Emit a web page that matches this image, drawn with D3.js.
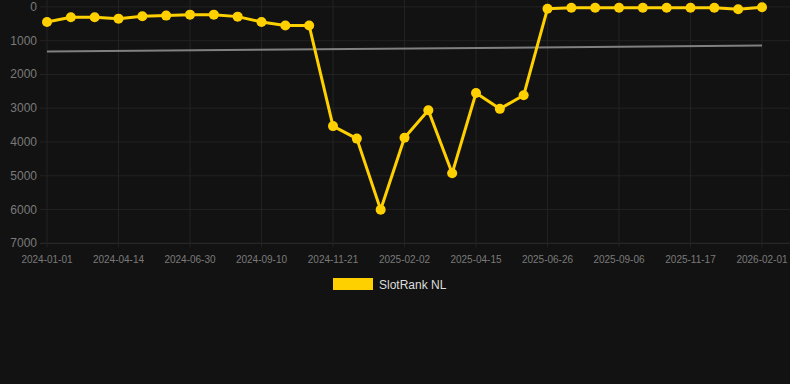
<!DOCTYPE html>
<html>
<head>
<meta charset="utf-8">
<script src="https://cdn.jsdelivr.net/npm/d3@7"></script>
<style>
  html, body { margin: 0; padding: 0; background: #121212; }
  svg { display: block; }
</style>
</head>
<body>
<div id="chart"></div>
<script>
var vWidth = 790;
var vHeight = 384;

// categories (one point per snapshot), only every third one is labelled
var dates = [
  "2024-01-01", "2024-02-05", "2024-03-10", "2024-04-14", "2024-05-10", "2024-06-04",
  "2024-06-30", "2024-07-24", "2024-08-17", "2024-09-10", "2024-10-04", "2024-10-28",
  "2024-11-21", "2024-12-15", "2025-01-09", "2025-02-02", "2025-02-26", "2025-03-22",
  "2025-04-15", "2025-05-09", "2025-06-02", "2025-06-26", "2025-07-20", "2025-08-13",
  "2025-09-06", "2025-09-30", "2025-10-24", "2025-11-17", "2025-12-11", "2026-01-06",
  "2026-02-01"
];
var tickLabels = ["2024-01-01", "2024-04-14", "2024-06-30", "2024-09-10", "2024-11-21",
  "2025-02-02", "2025-04-15", "2025-06-26", "2025-09-06", "2025-11-17", "2026-02-01"];
var rankNL = [445, 307, 307, 348, 278, 258, 229, 229, 288, 445, 553, 553,
  3530, 3900, 6006, 3873, 3060, 4928, 2548, 3019, 2617, 53, 24, 24,
  24, 24, 24, 24, 24, 71, 12];
var trendEnds = [1320, 1145];
var yTicks = [0, 1000, 2000, 3000, 4000, 5000, 6000, 7000];

var svg = d3.select("#chart")
    .append("svg")
        .attr("width", vWidth)
        .attr("height", vHeight)
        .style("font-family", "Liberation Sans, Arial, sans-serif");

svg.append("rect")
    .attr("width", vWidth)
    .attr("height", vHeight)
    .attr("fill", "#121212");

var x = d3.scalePoint().domain(dates).range([47, 762]);
var y = d3.scaleLinear().domain([0, 7000]).range([6.9, 243.3]);

// horizontal grid
svg.append("g").selectAll("line")
    .data(yTicks)
    .enter().append("line")
        .attr("x1", 40)
        .attr("x2", vWidth)
        .attr("y1", function (d) { return y(d); })
        .attr("y2", function (d) { return y(d); })
        .attr("stroke", function (d) { return d === 7000 ? "#2e2e2e" : "#222"; })
        .attr("stroke-width", 1);

// vertical grid + ticks
svg.append("g").selectAll("line")
    .data(tickLabels)
    .enter().append("line")
        .attr("x1", function (d) { return x(d); })
        .attr("x2", function (d) { return x(d); })
        .attr("y1", 0)
        .attr("y2", y(7000) + 4)
        .attr("stroke", "#222")
        .attr("stroke-width", 1);

// y labels
svg.append("g").selectAll("text")
    .data(yTicks)
    .enter().append("text")
        .attr("x", 37)
        .attr("y", function (d) { return y(d) + 4; })
        .attr("text-anchor", "end")
        .attr("fill", "#7a7a7a")
        .style("font-size", "12px")
        .text(function (d) { return d; });

// x labels
svg.append("g").selectAll("text")
    .data(tickLabels)
    .enter().append("text")
        .attr("x", function (d) { return x(d); })
        .attr("y", 263)
        .attr("text-anchor", "middle")
        .attr("fill", "#7a7a7a")
        .style("font-size", "10px")
        .text(function (d) { return d; });

// trend line
svg.append("line")
    .attr("x1", x(dates[0]))
    .attr("x2", x(dates[dates.length - 1]))
    .attr("y1", y(trendEnds[0]))
    .attr("y2", y(trendEnds[1]))
    .attr("stroke", "#808080")
    .attr("stroke-width", 2);

// series
var line = d3.line()
    .x(function (d, i) { return x(dates[i]); })
    .y(function (d) { return y(d); });

svg.append("path")
    .datum(rankNL)
    .attr("d", line)
    .attr("fill", "none")
    .attr("stroke", "#FFD000")
    .attr("stroke-width", 3)
    .attr("stroke-linejoin", "round");

svg.append("g").selectAll("circle")
    .data(rankNL)
    .enter().append("circle")
        .attr("cx", function (d, i) { return x(dates[i]); })
        .attr("cy", function (d) { return y(d); })
        .attr("r", 5)
        .attr("fill", "#FFD000");

// legend
svg.append("rect")
    .attr("x", 333)
    .attr("y", 278)
    .attr("width", 40)
    .attr("height", 12)
    .attr("fill", "#FFD000");

svg.append("text")
    .attr("x", 379)
    .attr("y", 289)
    .attr("fill", "#ddd")
    .style("font-size", "12px")
    .text("SlotRank NL");
</script>
</body>
</html>
